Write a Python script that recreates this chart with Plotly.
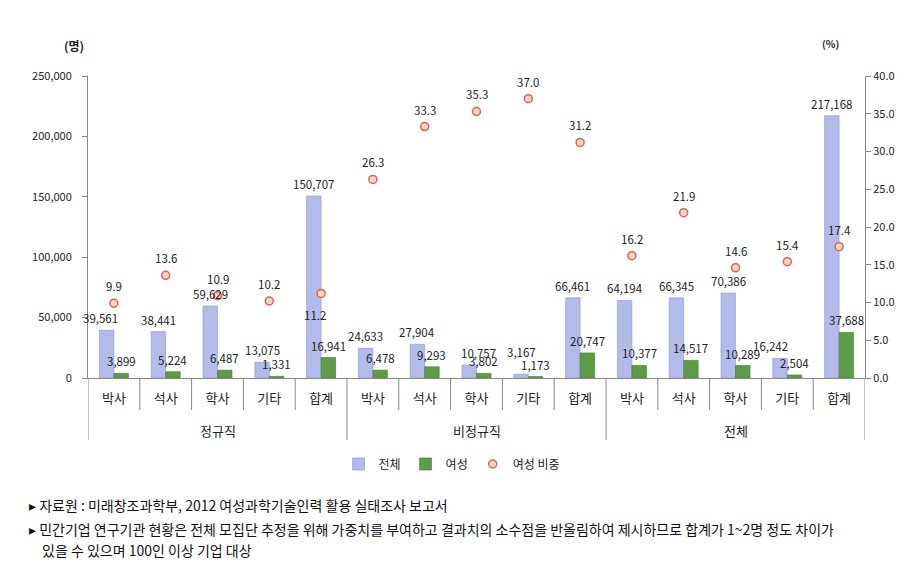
import plotly.graph_objects as go

# ---- data ----
groups = ["정규직", "비정규직", "전체"]
subcats = ["박사", "석사", "학사", "기타", "합계"]
total = [39561, 38441, 59629, 13075, 150707,
         24633, 27904, 10757, 3167, 66461,
         64194, 66345, 70386, 16242, 217168]
female = [3899, 5224, 6487, 1331, 16941,
          6478, 9293, 3802, 1173, 20747,
          10377, 14517, 10289, 2504, 37688]
ratio = [9.9, 13.6, 10.9, 10.2, 11.2,
         26.3, 33.3, 35.3, 37.0, 31.2,
         16.2, 21.9, 14.6, 15.4, 17.4]
y_ticks = [0, 50000, 100000, 150000, 200000, 250000]
y2_ticks = [0, 5, 10, 15, 20, 25, 30, 35, 40]
notes = [
    "자료원 : 미래창조과학부, 2012 여성과학기술인력 활용 실태조사 보고서",
    "민간기업 연구기관 현황은 전체 모집단 추정을 위해 가중치를 부여하고 결과치의 소수점을 반올림하여 제시하므로 합계가 1~2명 정도 차이가",
    "있을 수 있으며 100인 이상 기업 대상",
]

# ---- style / layout ----
OFF = 8  # page body margin of the browser
W, H = 917 - OFF, 574 - OFF
L, R, T, B = 88 - OFF, 865 - OFF, 76 - OFF, 378 - OFF
FONT = "Noto Sans CJK KR"
BARGAP = 0.44
HALF = (1 - BARGAP) / 4  # offset of each bar centre from category centre
# label nudges (pixel) matching the reference's hand-placed labels
total_nudge = {0: (-6, 0), 7: (9, 0), 8: (0, 10), 13: (-10, 0)}
ratio_below = {4}

def px_x(x):
    return (x - OFF - L) / (R - L)

def px_y(y):
    return (B - (y - OFF)) / (B - T)

n = len(total)
xs = list(range(n))
labels = [subcats[i % len(subcats)] for i in range(n)]

fig = go.Figure()
fig.add_trace(go.Bar(
    x=xs, y=total, name="전체",
    marker=dict(color="#b3bbea", line=dict(color="#8e96d0", width=0.6)),
))
fig.add_trace(go.Bar(
    x=xs, y=female, name="여성",
    marker=dict(color="#5f9c4a", line=dict(color="#3d7a2e", width=0.6)),
))
fig.add_trace(go.Scatter(
    x=xs, y=ratio, name="여성 비중", yaxis="y2", mode="markers",
    marker=dict(symbol="circle", size=8, color="#fbd6cc",
                line=dict(color="#e0604c", width=1.5)),
    cliponaxis=False,
))

lab_font = dict(family=FONT, size=11.5, color="#222")
annotations = []
for i, v in enumerate(total):
    dx, dy = total_nudge.get(i, (0, 0))
    annotations.append(dict(x=i - HALF, y=v, xref="x", yref="y",
                            text=f"{v:,}", showarrow=False,
                            xshift=dx, yshift=12 + dy, font=lab_font))
for i, v in enumerate(female):
    annotations.append(dict(x=i + HALF, y=v, xref="x", yref="y",
                            text=f"{v:,}", showarrow=False,
                            yshift=12, font=lab_font))
for i, r in enumerate(ratio):
    below = i in ratio_below
    annotations.append(dict(
        x=i, y=r, xref="x", yref="y2", text=f"{r:.1f}", showarrow=False,
        yshift=-22 if below else 17, xshift=-6 if below else 0,
        font=lab_font,
    ))

# group labels
for g, name in enumerate(groups):
    annotations.append(dict(
        x=g * 5 + 2, y=px_y(430), xref="x", yref="paper", text=name,
        showarrow=False, font=dict(family=FONT, size=13, color="#222"),
        yanchor="middle",
    ))

# units
annotations.append(dict(x=px_x(62), y=px_y(45), xref="paper", yref="paper",
                        text="<b>(명)</b>", showarrow=False, yanchor="middle",
                        font=dict(family=FONT, size=12, color="#222")))
annotations.append(dict(x=px_x(841), y=px_y(43), xref="paper", yref="paper",
                        text="<b>(%)</b>", showarrow=False, yanchor="middle",
                        font=dict(family=FONT, size=10, color="#222")))

# footnotes
for k, (yy, txt) in enumerate(zip([505, 529, 550], notes)):
    prefix = "▸ " if k < 2 else ""
    annotations.append(dict(
        x=px_x(40 if k == 2 else 27), y=px_y(yy), xref="paper", yref="paper",
        text=prefix + txt, showarrow=False, xanchor="left", yanchor="middle",
        font=dict(family=FONT, size=14, color="#111"),
    ))

shapes = []
for i in range(n + 1):
    xpos = i - 0.5
    y_end = 440 if i % 5 == 0 else 410
    shapes.append(dict(type="line", xref="x", yref="paper",
                       x0=xpos, x1=xpos, y0=0, y1=px_y(y_end),
                       line=dict(color="#888", width=1)))

fig.update_layout(
    template="none",
    width=W, height=H,
    margin=dict(l=L, r=W - R, t=T, b=H - B, pad=0, autoexpand=False),
    paper_bgcolor="white", plot_bgcolor="white",
    barmode="group", bargap=BARGAP, bargroupgap=0.0,
    font=dict(family=FONT, size=11, color="#222"),
    showlegend=True,
    legend=dict(orientation="h", x=px_x(452), y=px_y(464),
                xanchor="center", yanchor="middle",
                font=dict(family=FONT, size=12, color="#222"),
                itemwidth=30, tracegroupgap=0, bgcolor="rgba(0,0,0,0)"),
    xaxis=dict(range=[-0.5, n - 0.5], tickmode="array", tickvals=xs,
               ticktext=labels, showgrid=False, zeroline=False,
               showline=True, linecolor="#888", ticks="", automargin=False,
               tickfont=dict(family=FONT, size=13, color="#222"),
               ticklabelstandoff=8),
    yaxis=dict(range=[0, 250000], tickvals=y_ticks,
               ticktext=[f"{v:,}" for v in y_ticks], automargin=False,
               showgrid=False, zeroline=False, showline=True,
               linecolor="#888", ticks="outside", ticklen=5,
               tickcolor="#888",
               tickfont=dict(family=FONT, size=11, color="#222"),
               ticklabelstandoff=8),
    yaxis2=dict(range=[0, 40], tickvals=y2_ticks, automargin=False,
                ticktext=[f"{v:.1f}" for v in y2_ticks],
                overlaying="y", side="right", showgrid=False,
                zeroline=False, showline=True, linecolor="#888",
                ticks="outside", ticklen=5, tickcolor="#888",
                tickfont=dict(family=FONT, size=11, color="#222")),
    annotations=annotations,
    shapes=shapes,
)

fig.write_html("out.html")
